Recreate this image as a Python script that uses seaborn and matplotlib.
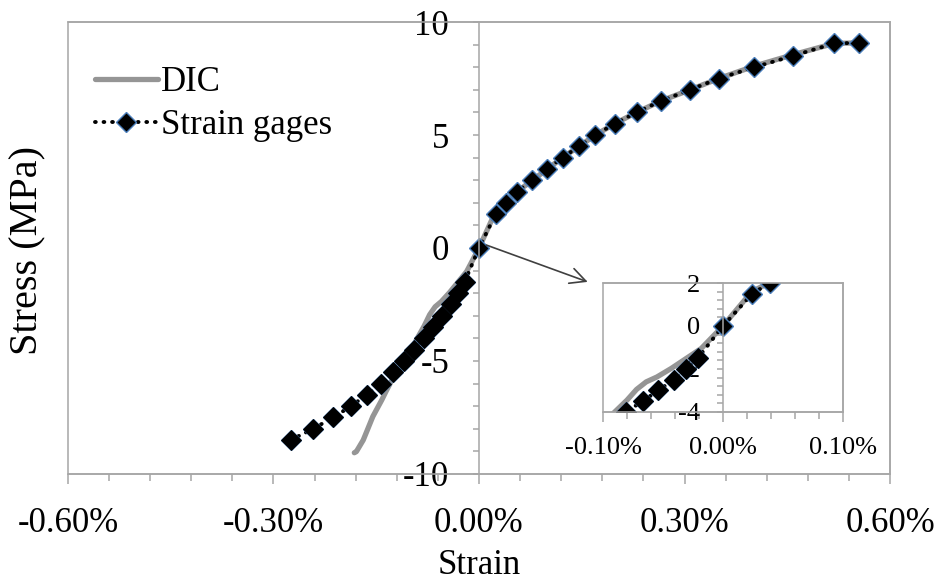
import numpy as np
import pandas as pd
import matplotlib
matplotlib.use("Agg")
import matplotlib.pyplot as plt
import seaborn as sns
from matplotlib.ticker import MultipleLocator, FuncFormatter
from matplotlib.patches import Rectangle

# strain in %, stress in MPa
sg_strain = [-0.275, -0.242, -0.213, -0.187, -0.164, -0.143, -0.125, -0.110, -0.0945, -0.081,
             -0.067, -0.054, -0.041, -0.031, -0.021, 0.0, 0.0244, 0.039, 0.0555, 0.078,
             0.0998, 0.122, 0.146, 0.170, 0.198, 0.230, 0.265, 0.308, 0.350, 0.402,
             0.458, 0.518, 0.554]
sg_stress = [-8.5, -8.0, -7.5, -7.0, -6.5, -6.0, -5.5, -5.0, -4.5, -4.0,
             -3.5, -3.0, -2.5, -2.0, -1.5, 0.0, 1.5, 2.0, 2.5, 3.0,
             3.5, 4.0, 4.5, 5.0, 5.5, 6.0, 6.5, 7.0, 7.5, 8.0,
             8.5, 9.05, 9.08]

dic_strain = [-0.182, -0.179, -0.169, -0.164, -0.155, -0.142, -0.135, -0.127, -0.115, -0.103,
              -0.0915, -0.080, -0.072, -0.064, -0.055, -0.043, -0.018, 0.0, 0.024, 0.040,
              0.056, 0.078, 0.100, 0.122, 0.146, 0.170, 0.198, 0.230, 0.265, 0.308,
              0.350, 0.402, 0.458, 0.518, 0.554]
dic_stress = [-9.06, -9.01, -8.5, -8.13, -7.46, -6.73, -6.3, -5.84, -5.32, -4.7,
              -4.07, -3.45, -2.95, -2.6, -2.37, -1.97, -1.04, 0.0, 1.6, 2.05,
              2.5, 3.0, 3.5, 4.0, 4.5, 5.0, 5.5, 6.0, 6.5, 7.0,
              7.5, 8.05, 8.55, 9.05, 9.08]

df_sg = pd.DataFrame({"strain": sg_strain, "stress": sg_stress})
df_dic = pd.DataFrame({"strain": dic_strain, "stress": dic_stress})
df_sg_neg = df_sg[df_sg["strain"] < 0]

sns.set_style("white")
plt.rcParams['font.family'] = ['Liberation Serif', 'DejaVu Serif']
plt.rcParams['axes.unicode_minus'] = False
plt.rcParams['text.color'] = 'black'
plt.rcParams['axes.labelcolor'] = 'black'
plt.rcParams['xtick.labelcolor'] = 'black'
plt.rcParams['ytick.labelcolor'] = 'black'

grey = '#a6a6a6'
dic_col = '#959595'
edge_blue = '#4a7ebb'
MS = 10.5


def draw(ax, legend):
    sns.lineplot(data=df_dic, x="strain", y="stress", sort=False, estimator=None,
                 color=dic_col, lw=3.8, solid_capstyle='round', ax=ax,
                 label="DIC" if legend else None, legend=False)
    sns.lineplot(data=df_sg, x="strain", y="stress", sort=False, estimator=None,
                 color='black', lw=2.8, linestyle=(0, (0.2, 2.0)), dash_capstyle='round',
                 marker='D', markersize=MS, markerfacecolor='black',
                 markeredgecolor=edge_blue, markeredgewidth=1.0, ax=ax,
                 label="Strain gages" if legend else None, legend=False)
    # compressive side markers show no blue outline
    sns.lineplot(data=df_sg_neg, x="strain", y="stress", sort=False, estimator=None,
                 color='black', linestyle='', marker='D', markersize=MS - 0.5,
                 markerfacecolor='black', markeredgecolor='black',
                 markeredgewidth=0.6, ax=ax, legend=False)


def style_axes(ax, xmaj, xmin, ymaj, ymin, fs, xpad, ypad):
    ax.spines['left'].set_position(('data', 0))
    for s in ax.spines.values():
        s.set_color(grey)
        s.set_linewidth(1.1)
    ax.add_patch(Rectangle((0, 0), 1, 1, transform=ax.transAxes, fill=False,
                           ec=grey, lw=1.1, clip_on=False, zorder=0.5))
    ax.xaxis.set_major_locator(MultipleLocator(xmaj))
    ax.xaxis.set_minor_locator(MultipleLocator(xmin))
    ax.yaxis.set_major_locator(MultipleLocator(ymaj))
    ax.yaxis.set_minor_locator(MultipleLocator(ymin))
    ax.xaxis.set_major_formatter(FuncFormatter(lambda v, p: f"{v:.2f}%".replace("-0.00", "0.00")))
    ax.yaxis.set_major_formatter(FuncFormatter(lambda v, p: f"{v:g}"))
    ax.tick_params(axis='x', which='major', direction='out', length=7, width=1.1,
                   color=grey, labelsize=fs, pad=xpad, bottom=True)
    ax.tick_params(axis='x', which='minor', direction='out', length=5, width=1.1,
                   color=grey, bottom=True)
    ax.tick_params(axis='y', which='both', direction='out', length=4.5, width=1.1,
                   color=grey, labelsize=fs, pad=ypad, left=True)
    ax.set_xlabel("")
    ax.set_ylabel("")


fig = plt.figure(figsize=(9.36, 5.81), dpi=100)
ax = fig.add_axes([0.0726, 0.1842, 0.8783, 0.7779])
draw(ax, True)
ax.set_xlim(-0.6, 0.6)
ax.set_ylim(-10, 10)
style_axes(ax, 0.3, 0.06, 5, 1, 25, 17, 17)
ax.set_xlabel("Strain", fontsize=25, labelpad=6)
fig.text(0.030, 0.568, "Stress (MPa)", rotation=90, fontsize=29, ha='center', va='center')

leg = ax.legend(loc='upper left', bbox_to_anchor=(95 / 936, 1 - 66 / 581),
                bbox_transform=fig.transFigure, frameon=False, fontsize=25,
                handlelength=1.8, handletextpad=0.1, labelspacing=0.3,
                borderpad=0, borderaxespad=0)

ax.annotate("", xy=(0.1587, -1.5), xytext=(0.0108, 0.13),
            arrowprops=dict(arrowstyle='->', color='#404040', lw=1.2,
                            mutation_scale=28, shrinkA=0, shrinkB=0))

axin = fig.add_axes([0.6442, 0.2909, 0.2564, 0.2220])
axin.set_facecolor('white')
draw(axin, False)
axin.set_xlim(-0.1, 0.1)
axin.set_ylim(-4, 2)
style_axes(axin, 0.1, 0.02, 2, 0.4, 19, 11, 12)

fig.savefig("out.png", dpi=100)
